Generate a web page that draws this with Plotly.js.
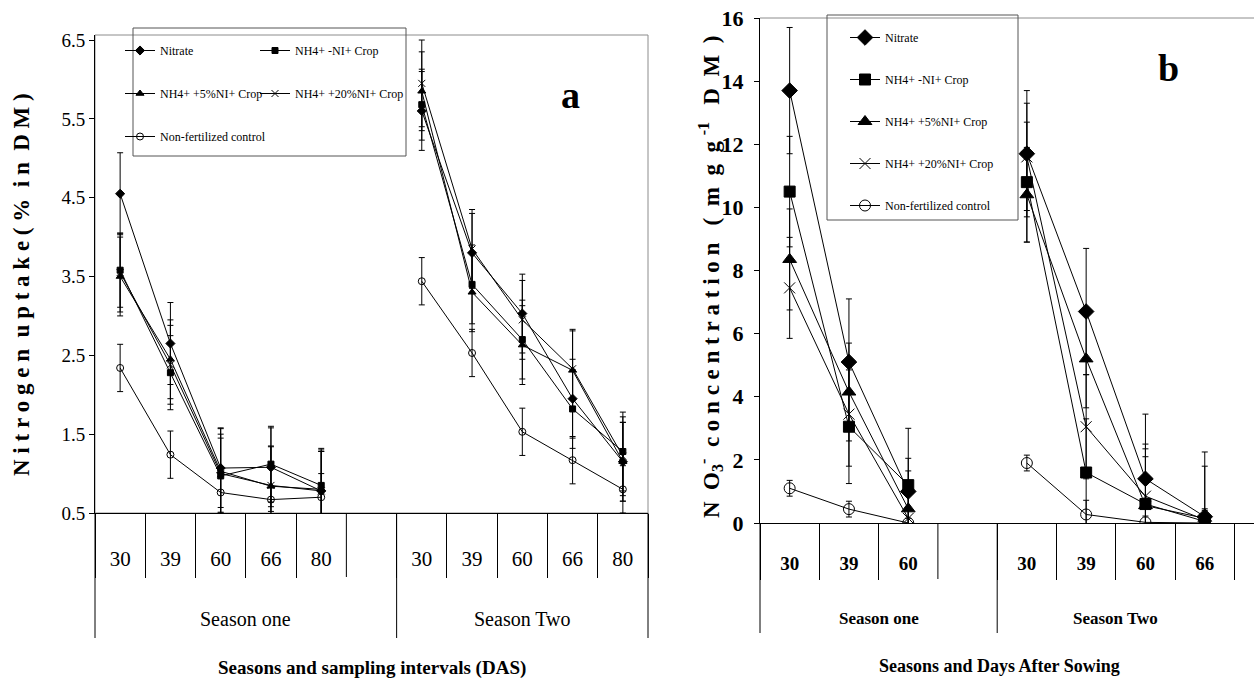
<!DOCTYPE html>
<html><head><meta charset="utf-8">
<script src="https://cdn.plot.ly/plotly-3.0.1.min.js"></script>
<style>html,body{margin:0;padding:0;background:#fff}#chart{width:1254px;height:684px}</style>
</head><body><div id="chart"></div>
<script>
// ---------- Panel a : Nitrogen uptake (% in DM) ----------
const catsA = ["S1-30","S1-39","S1-60","S1-66","S1-80","S1-gap","S2-30","S2-39","S2-60","S2-66","S2-80"];
const tickCatsA = ["S1-30","S1-39","S1-60","S1-66","S1-80","S2-30","S2-39","S2-60","S2-66","S2-80"];
const dayLabelsA = ["30","39","60","66","80","30","39","60","66","80"];
const seasonLabels = ["Season one", "Season Two"];

const nitrateA = [4.55, 2.65, 1.07, 1.08, 0.78, null, 5.60, 3.80, 3.03, 1.95, 1.15];
const noNIA    = [3.58, 2.28, 0.97, 1.12, 0.85, null, 5.68, 3.40, 2.70, 1.82, 1.28];
const ni5A     = [3.50, 2.45, 1.03, 0.84, 0.80, null, 5.85, 3.30, 2.63, 2.31, 1.15];
const ni20A    = [3.55, 2.38, 1.00, 0.85, 0.78, null, 5.95, 3.85, 2.95, 2.33, 1.22];
const controlA = [2.34, 1.24, 0.76, 0.67, 0.70, null, 3.44, 2.53, 1.53, 1.17, 0.80];

const nitrateAErr = [0.52, 0.52, 0.50, 0.50, 0.50, null, 0.50, 0.50, 0.50, 0.50, 0.50];
const noNIAErr    = [0.47, 0.47, 0.48, 0.48, 0.47, null, 0.45, 0.50, 0.50, 0.50, 0.50];
const ni5AErr     = [0.50, 0.50, 0.55, 0.50, 0.50, null, 0.50, 0.50, 0.50, 0.50, 0.50];
const ni20AErr    = [0.50, 0.50, 0.50, 0.50, 0.50, null, 0.55, 0.50, 0.50, 0.50, 0.50];
const controlAErr = [0.30, 0.30, 0.25, 0.15, 0.30, null, 0.30, 0.30, 0.30, 0.30, 0.30];

// ---------- Panel b : NO3- concentration (mg g-1 DM) ----------
const catsB = ["S1-30","S1-39","S1-60","S1-gap","S2-30","S2-39","S2-60","S2-66"];
const tickCatsB = ["S1-30","S1-39","S1-60","S2-30","S2-39","S2-60","S2-66"];
const dayLabelsB = ["30","39","60","30","39","60","66"];

const nitrateB = [13.7, 5.10, 1.00, null, 11.7, 6.70, 1.40, 0.20];
const noNIB    = [10.5, 3.05, 1.20, null, 10.8, 1.60, 0.60, 0.05];
const ni5B     = [8.35, 4.15, 0.45, null, 10.4, 5.20, 0.55, 0.15];
const ni20B    = [7.45, 3.45, 0.15, null, 11.6, 3.05, 0.85, 0.10];
const controlB = [1.10, 0.44, 0.00, null, 1.90, 0.27, 0.02, 0.00];

const nitrateBErr = [2.00, 2.00, 1.05, null, 2.00, 2.00, 2.05, 2.05];
const noNIBErr    = [1.75, 1.80, 1.80, null, 1.90, 1.70, 1.75, 1.75];
const ni5BErr     = [1.60, 1.55, 1.20, null, 1.50, 1.55, 1.55, 0.30];
const ni20BErr    = [1.60, 1.65, 1.00, null, 1.70, 1.65, 1.65, 0.30];
const controlBErr = [0.25, 0.25, 0.15, null, 0.25, 0.45, 0.20, 0.10];

const seriesNames = ["Nitrate", "NH4+ -NI+ Crop", "NH4+ +5%NI+ Crop", "NH4+ +20%NI+ Crop", "Non-fertilized control"];

// ---------- styling ----------
const FONT = "Liberation Serif, Times New Roman, serif";
const W = 1254, H = 684;
const px = v => v / W;          // layout helpers (pixel -> paper)
const py = v => 1 - v / H;
const NB = "\u00a0";

const symA = ["diamond", "square", "triangle-up", "x-thin", "circle-open"];
const sizeA = [7, 6, 7, 7, 7];
const sizeB = [12, 11, 12, 11, 11];
const legendA = ["legend", "legend3", "legend", "legend3", "legend"];

function mk(name, x, y, err, i, panel) {
  const isA = panel === "a";
  return {
    type: "scatter", mode: "lines+markers", name: name,
    x: x, y: y,
    xaxis: isA ? "x" : "x2", yaxis: isA ? "y" : "y2",
    connectgaps: false,
    legend: isA ? legendA[i] : "legend2",
    legendgroup: panel + i,
    line: {color: "#000", width: 1},
    marker: {
      symbol: symA[i], size: isA ? sizeA[i] : sizeB[i], color: "#000",
      line: {color: "#000", width: 1}
    },
    error_y: {type: "data", array: err, visible: true, color: "#000", thickness: 1, width: 3},
    hoverinfo: "x+y+name"
  };
}

const dataA = [nitrateA, noNIA, ni5A, ni20A, controlA];
const errA = [nitrateAErr, noNIAErr, ni5AErr, ni20AErr, controlAErr];
const dataB = [nitrateB, noNIB, ni5B, ni20B, controlB];
const errB = [nitrateBErr, noNIBErr, ni5BErr, ni20BErr, controlBErr];

const traces = [];
seriesNames.forEach((n, i) => traces.push(mk(n, catsA, dataA[i], errA[i], i, "a")));
seriesNames.forEach((n, i) => traces.push(mk(n, catsB, dataB[i], errB[i], i, "b")));

// panel geometry (px)
const A = {l: 95, r: 648, t: 35, b: 513};
const B = {l: 760, r: 1254, t: 18, b: 523};

function ann(o) { return Object.assign({showarrow: false, xanchor: "center", yanchor: "middle"}, o); }
function vline(xref, x, y0, y1) {
  return {type: "line", xref: xref, yref: "paper", x0: x, x1: x, y0: py(y0), y1: py(y1),
          line: {color: "#000", width: 1}};
}

const layout = {
  width: W, height: H, autosize: false,
  margin: {l: 0, r: 0, t: 0, b: 0},
  paper_bgcolor: "#fff", plot_bgcolor: "#fff",
  font: {family: FONT, color: "#000"},
  xaxis: {
    domain: [px(A.l), px(A.r)], anchor: "y",
    type: "category", categoryorder: "array", categoryarray: catsA,
    tickmode: "array", tickvals: tickCatsA, ticktext: dayLabelsA,
    range: [-0.5, catsA.length - 0.5],
    tickson: "boundaries", ticks: "outside", ticklen: 64, tickwidth: 1, tickcolor: "#000",
    ticklabelstandoff: 27,
    tickfont: {family: FONT, size: 21, color: "#000"},
    showline: true, linecolor: "#000", linewidth: 1,
    showgrid: false, zeroline: false, fixedrange: true
  },
  yaxis: {
    domain: [py(A.b), py(A.t)], anchor: "x",
    range: [0.5, 0.5 + (A.b - A.t) / 78.83],
    tickmode: "linear", tick0: 0.5, dtick: 1, tickformat: ".1f",
    ticks: "outside", ticklen: 5, tickcolor: "#000",
    tickfont: {family: FONT, size: 19, color: "#000"},
    showline: true, linecolor: "#000", linewidth: 1,
    showgrid: false, zeroline: false, fixedrange: true
  },
  xaxis2: {
    domain: [px(B.l), 1], anchor: "y2",
    type: "category", categoryorder: "array", categoryarray: catsB,
    tickmode: "array", tickvals: tickCatsB, ticktext: dayLabelsB,
    range: [-0.5, -0.5 + (B.r - B.l) / 59.3],
    tickson: "boundaries", ticks: "outside", ticklen: 56, tickwidth: 1, tickcolor: "#000",
    ticklabelstandoff: 23,
    tickfont: {family: FONT, size: 19, color: "#000", weight: "bold"},
    showline: true, linecolor: "#000", linewidth: 1,
    showgrid: false, zeroline: false, fixedrange: true
  },
  yaxis2: {
    domain: [py(B.b), py(B.t)], anchor: "x2",
    range: [0, 16], tickmode: "linear", tick0: 0, dtick: 2,
    ticks: "outside", ticklen: 5, tickcolor: "#000", ticklabelstandoff: 6,
    tickfont: {family: FONT, size: 22, color: "#000", weight: "bold"},
    showline: true, linecolor: "#000", linewidth: 1,
    showgrid: false, zeroline: false, fixedrange: true
  },
  legend: {
    x: px(120), y: py(36), xanchor: "left", yanchor: "top",
    bgcolor: "rgba(0,0,0,0)", borderwidth: 0, traceorder: "grouped", tracegroupgap: 24,
    itemwidth: 30, font: {family: FONT, size: 12, color: "#000"}
  },
  legend3: {
    x: px(255), y: py(36), xanchor: "left", yanchor: "top",
    bgcolor: "rgba(0,0,0,0)", borderwidth: 0, traceorder: "grouped", tracegroupgap: 24,
    itemwidth: 30, font: {family: FONT, size: 12, color: "#000"}
  },
  legend2: {
    x: px(845), y: py(23), xanchor: "left", yanchor: "top",
    bgcolor: "rgba(0,0,0,0)", borderwidth: 0, traceorder: "grouped", tracegroupgap: 23,
    itemwidth: 30, font: {family: FONT, size: 12, color: "#000"}
  },
  shapes: [
    // panel a plot-area frame (grey)
    {type: "rect", xref: "x domain", yref: "y domain", x0: 0, x1: 1, y0: 0, y1: 1,
     line: {color: "#8c8c8c", width: 1}, layer: "below"},
    // panel a group dividers below the axis
    vline("x domain", 0, A.b, 638),
    vline("x", 5.5, A.b, 638),
    vline("x domain", 1, A.b, 638),
    vline("x", 4.5, A.b, A.b + 64),
    // panel b top frame line (grey)
    {type: "line", xref: "x2 domain", yref: "y2 domain", x0: 0, x1: 1, y0: 1, y1: 1,
     line: {color: "#8c8c8c", width: 1}, layer: "below"},
    // panel b group dividers
    vline("x2 domain", 0, B.b, 633),
    vline("x2", 3.5, B.b, 633),
    vline("x2", 2.5, B.b, B.b + 56),
    // legend boxes
    {type: "rect", xref: "paper", yref: "paper", x0: px(133), x1: px(406), y0: py(156), y1: py(28),
     line: {color: "#555", width: 1}, fillcolor: "rgba(255,255,255,0)", layer: "above"},
    {type: "rect", xref: "paper", yref: "paper", x0: px(827), x1: px(1018), y0: py(220), y1: py(15),
     line: {color: "#555", width: 1}, fillcolor: "rgba(255,255,255,0)", layer: "above"}
  ],
  annotations: [
    // season labels
    ann({xref: "x", yref: "paper", x: 2.5, y: py(619), text: seasonLabels[0],
         font: {family: FONT, size: 20, color: "#000"}}),
    ann({xref: "x", yref: "paper", x: 8, y: py(619), text: seasonLabels[1],
         font: {family: FONT, size: 20, color: "#000"}}),
    ann({xref: "x2", yref: "paper", x: 1.5, y: py(618), text: seasonLabels[0],
         font: {family: FONT, size: 17, color: "#000", weight: "bold"}}),
    ann({xref: "x2", yref: "paper", x: 5.5, y: py(618), text: seasonLabels[1],
         font: {family: FONT, size: 17, color: "#000", weight: "bold"}}),
    // axis titles
    ann({xref: "paper", yref: "paper", x: px(372), y: py(668), text: "Seasons and sampling intervals (DAS)",
         font: {family: FONT, size: 19, color: "#000", weight: "bold"}}),
    ann({xref: "paper", yref: "paper", x: px(999), y: py(666), text: "Seasons and Days After Sowing",
         font: {family: FONT, size: 18, color: "#000", weight: "bold"}}),
    ann({xref: "paper", yref: "paper", x: px(21), y: py(285), textangle: -90,
         text: ["N","i","t","r","o","g","e","n"].join(NB) + NB + NB + ["u","p","t","a","k","e"].join(NB) +
               NB + "(" + NB + "%" + NB + NB + "i" + NB + "n" + NB + NB + "D" + NB + "M" + NB + ")",
         font: {family: FONT, size: 23, color: "#000", weight: "bold"}}),
    ann({xref: "paper", yref: "paper", x: px(710), y: py(277), textangle: -90,
         text: "N" + NB + NB + "O<sub>3</sub><sup>-</sup>" + NB + NB +
               "concentration".split("").join(NB) + NB + NB + NB + "(" + NB + NB + "m" + NB + NB + "g" +
               NB + NB + "g" + NB + "<sup>-1</sup>" + NB + NB + NB + "D" + NB + NB + "M" + NB + NB + ")",
         font: {family: FONT, size: 23, color: "#000", weight: "bold"}}),
    // panel letters
    ann({xref: "paper", yref: "paper", x: px(570), y: py(95), text: "a",
         font: {family: FONT, size: 38, color: "#000", weight: "bold"}}),
    ann({xref: "paper", yref: "paper", x: px(1168), y: py(68), text: "b",
         font: {family: FONT, size: 38, color: "#000", weight: "bold"}})
  ]
};

Plotly.newPlot("chart", traces, layout, {displayModeBar: false, staticPlot: true});
</script>
</body></html>
